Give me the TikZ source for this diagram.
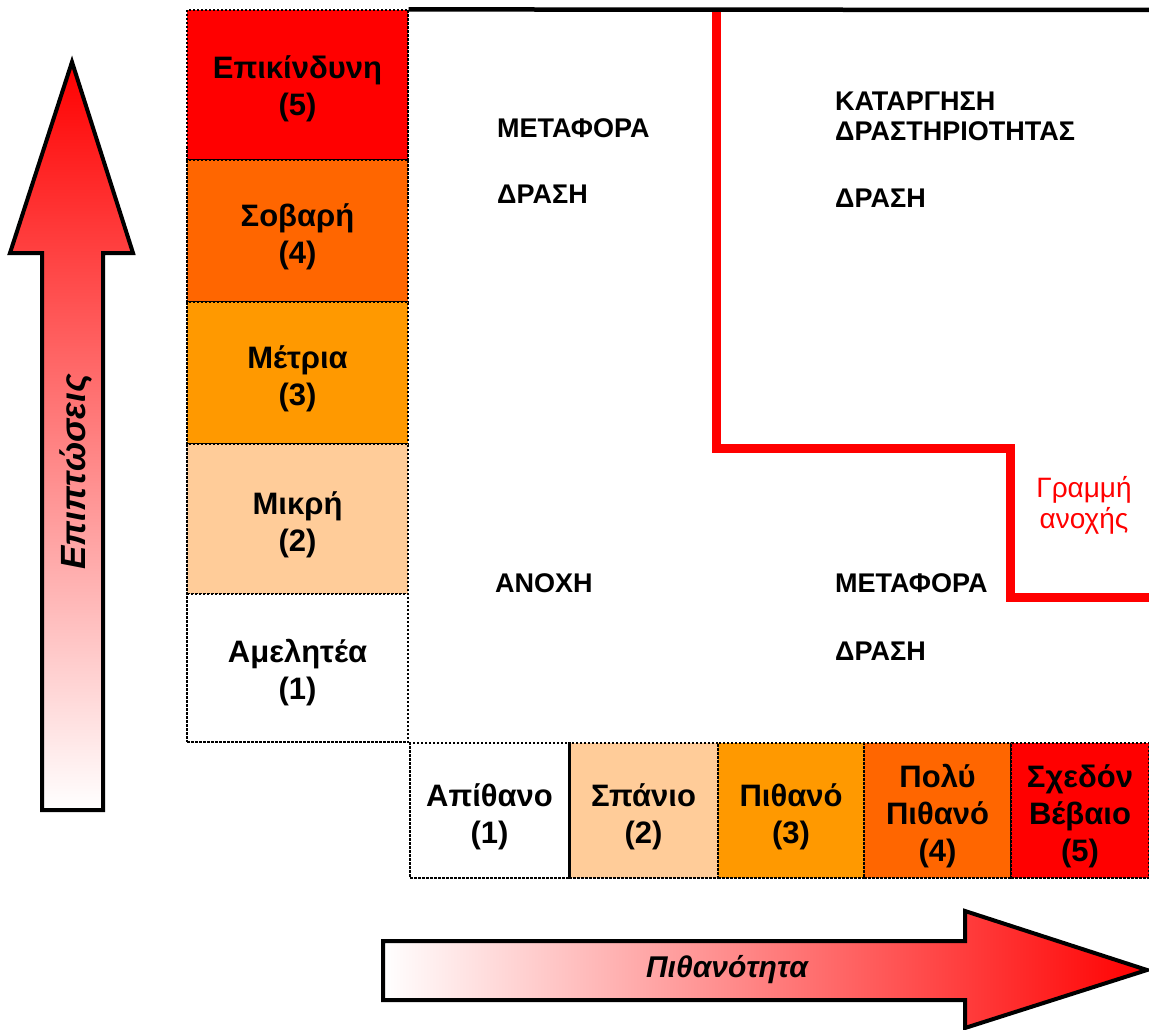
\documentclass[tikz,border=0pt]{standalone}
\usepackage{fontspec}
\setmainfont{Liberation Sans}
\definecolor{riskred}{HTML}{FF0000}
\definecolor{riskdark}{HTML}{FF6600}
\definecolor{riskorange}{HTML}{FF9900}
\definecolor{riskpeach}{HTML}{FFCC99}
\begin{document}
\begin{tikzpicture}[x=1pt,y=-1pt,
  cell/.style={draw=black, line width=1.2pt, dash pattern=on 2.5pt off 1.5pt,
    inner sep=0pt},
  lcell/.style={cell, minimum width=221pt},
  bcell/.style={cell, minimum height=135pt},
  celltext/.style={align=center, inner sep=0pt, yshift=-6pt,
    font=\bfseries\fontsize{31}{37}\selectfont},
  zonetext/.style={anchor=west, inner sep=0pt, align=left,
    font=\bfseries\fontsize{27}{30}\selectfont},
  bigarrow/.style={line width=4pt, line join=miter, draw=black},
  tolerance/.style={line width=9pt, draw=riskred, line join=miter}
]
\useasboundingbox (0,0) rectangle (1149,1030);

% impact scale (left column)
\node[lcell, fill=riskred,    minimum height=150pt] (r5) at (297.5,85)  {};
\node[lcell, fill=riskdark,   minimum height=142pt] (r4) at (297.5,231) {};
\node[lcell, fill=riskorange, minimum height=142pt] (r3) at (297.5,373) {};
\node[lcell, fill=riskpeach,  minimum height=150pt] (r2) at (297.5,519) {};
\node[lcell, fill=white,      minimum height=148pt] (r1) at (297.5,668) {};
\node[celltext, yshift=2pt] (r5t) at (r5.center) {Επικίνδυνη\\(5)};
\node[celltext] (r4t) at (r4.center) {Σοβαρή\\(4)};
\node[celltext] (r3t) at (r3.center) {Μέτρια\\(3)};
\node[celltext] (r2t) at (r2.center) {Μικρή\\(2)};
\node[celltext, yshift=1pt] (r1t) at (r1.center) {Αμελητέα\\(1)};

% likelihood scale (bottom row)
\node[bcell, fill=white,      minimum width=159pt] (c1) at (489.5,810.5)  {};
\node[bcell, fill=riskpeach,  minimum width=149pt] (c2) at (643.5,810.5)  {};
\node[bcell, fill=riskorange, minimum width=146pt] (c3) at (791,810.5)    {};
\node[bcell, fill=riskdark,   minimum width=147pt] (c4) at (937.5,810.5)  {};
\node[bcell, fill=riskred,    minimum width=138pt] (c5) at (1080,810.5)   {};
\draw[line width=3pt] (c1.north east) -- (c1.south east);
\node[celltext] (c1t) at (c1.center) {Απίθανο\\(1)};
\node[celltext] (c2t) at (c2.center) {Σπάνιο\\(2)};
\node[celltext] (c3t) at (c3.center) {Πιθανό\\(3)};
\node[celltext] (c4t) at (c4.center) {Πολύ\\Πιθανό\\(4)};
\node[celltext] (c5t) at (c5.center) {Σχεδόν\\Βέβαιο\\(5)};

% top frame line
\coordinate (topend) at (1149,10);
\draw[line width=4.5pt] (r5.north east) -- (topend);

% tolerance line
\coordinate (t0) at (716,12);
\coordinate (t1) at (716,448);
\coordinate (t2) at (1010,448);
\coordinate (t3) at (1010,597);
\coordinate (t4) at (1149,597);
\draw[tolerance] (t0) -- (t1) -- (t2) -- (t3) -- (t4);
\node[text=riskred, align=center, inner sep=0pt,
  font=\fontsize{28}{31}\selectfont] (tol) at (1084,505) {Γραμμή\\ανοχής};

% zone labels
\node[zonetext] (z1) at (497,128) {ΜΕΤΑΦΟΡΑ};
\node[zonetext] (z2) at (497,194) {ΔΡΑΣΗ};
\node[zonetext] (z3) at (835,116) {ΚΑΤΑΡΓΗΣΗ\\ΔΡΑΣΤΗΡΙΟΤΗΤΑΣ};
\node[zonetext] (z4) at (835,198) {ΔΡΑΣΗ};
\node[zonetext] (z5) at (495,583) {ΑΝΟΧΗ};
\node[zonetext] (z6) at (835,583) {ΜΕΤΑΦΟΡΑ};
\node[zonetext] (z7) at (835,651) {ΔΡΑΣΗ};

% axis arrows
\draw[bigarrow, top color=riskred, bottom color=white]
  (42,810) -- (42,253) -- (10,253) -- (72,62) -- (133,253) -- (103,253) -- (103,810) -- cycle;
\node[rotate=90, inner sep=0pt, font=\bfseries\itshape\fontsize{35}{40}\selectfont] (impact) at (76,472) {Επιπτώσεις};

\draw[bigarrow, left color=white, right color=riskred]
  (383,941) -- (965,941) -- (965,911) -- (1147,970) -- (965,1028) -- (965,1000) -- (383,1000) -- cycle;
\node[inner sep=0pt, font=\bfseries\itshape\fontsize{30}{36}\selectfont] (likely) at (727,970) {Πιθανότητα};
\end{tikzpicture}
\end{document}
